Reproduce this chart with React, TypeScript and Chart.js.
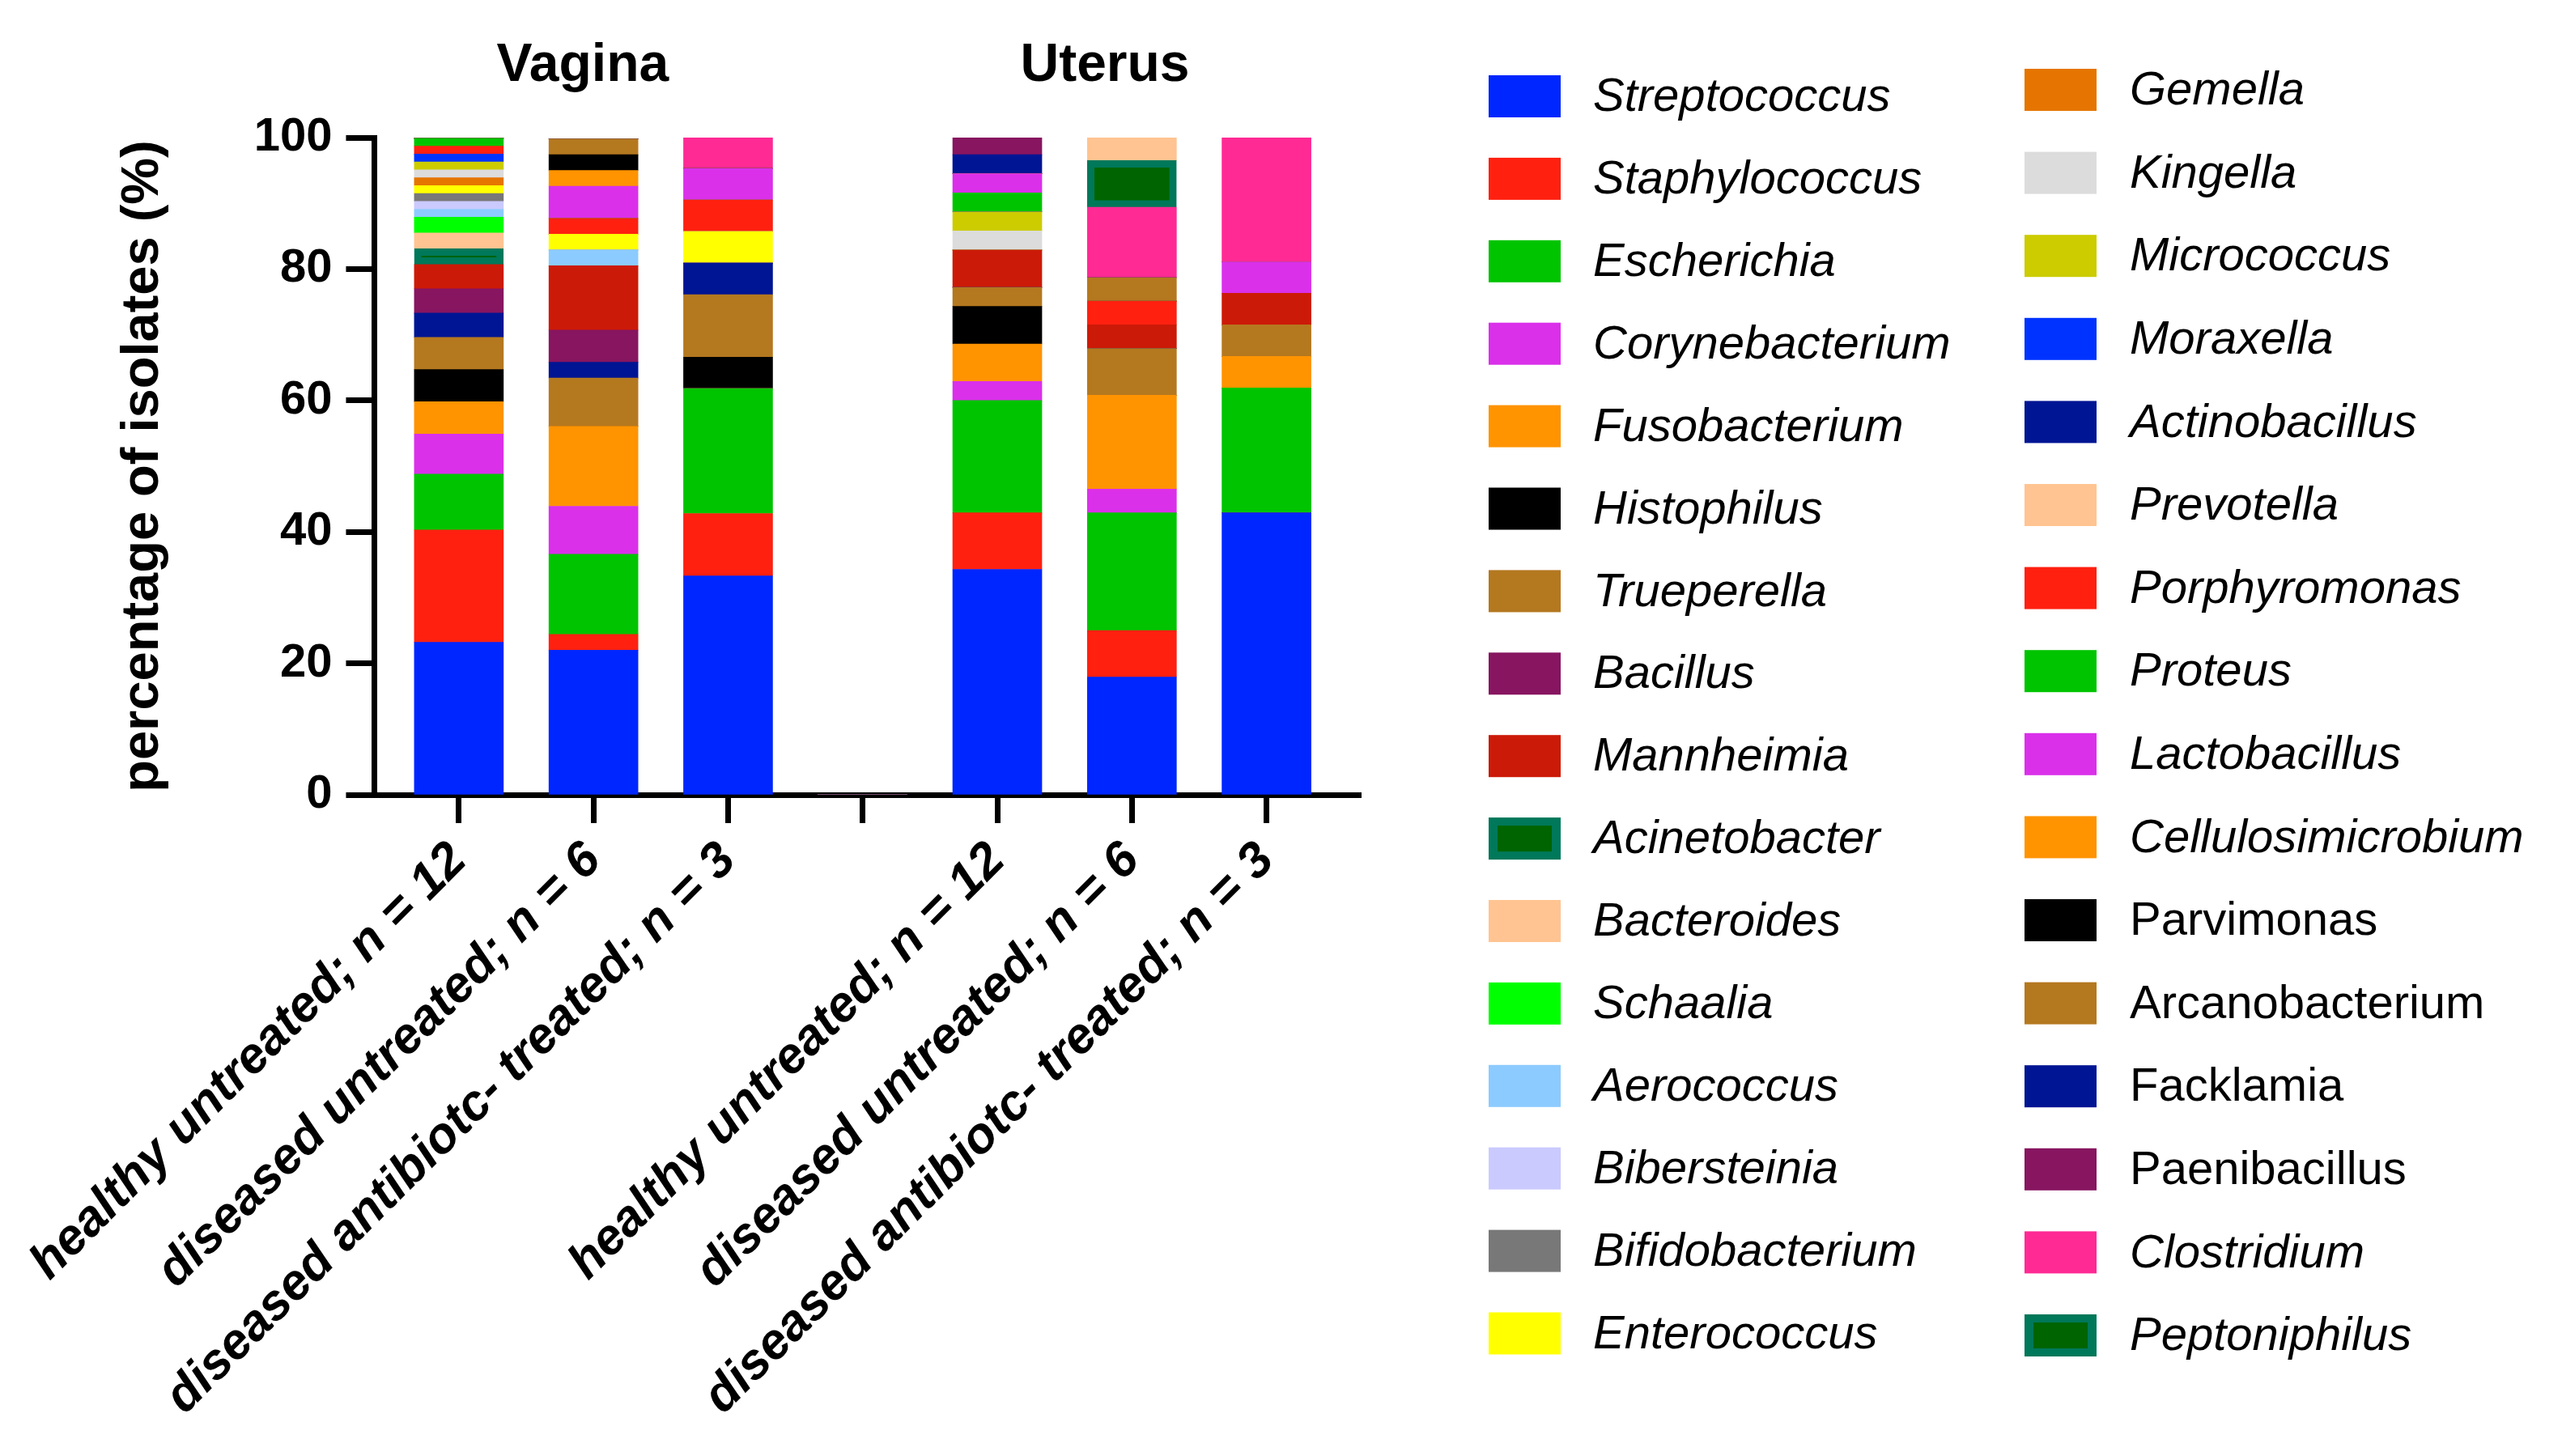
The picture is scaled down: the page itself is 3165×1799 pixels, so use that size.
import React, { useEffect, useRef } from 'react';
import { Chart, registerables } from 'chart.js';

Chart.register(...registerables);

// ---- categories / labels ----
const slotPositions = [0, 1, 2, 3, 4, 5, 6];
const groupLabels = [
  'healthy untreated; n = 12',
  'diseased untreated; n = 6',
  'diseased antibiotc- treated; n = 3',
  '',
  'healthy untreated; n = 12',
  'diseased untreated; n = 6',
  'diseased antibiotc- treated; n = 3',
];
const sectionTitles = ['Vagina', 'Uterus'];
const sectionCenters = [0.92, 4.8];
const yTicks = [0, 20, 40, 60, 80, 100];
const yTitle = 'percentage of isolates (%)';

// ---- series values (% of isolates), order: V healthy, V diseased, V treated, gap, U healthy, U diseased, U treated ----
const Streptococcus = [23.2, 22.0, 33.3, 0, 34.3, 17.9, 42.9];
const Staphylococcus = [17.1, 2.4, 9.5, 0, 8.6, 7.1, 0];
const Escherichia = [8.5, 12.2, 19.0, 0, 17.1, 17.9, 19.0];
const Corynebacterium = [6.1, 7.3, 0, 0, 2.9, 3.6, 0];
const Fusobacterium = [4.9, 12.2, 0, 0, 5.7, 14.3, 4.8];
const Histophilus = [4.9, 0, 4.8, 0, 5.7, 0, 0];
const Trueperella = [4.9, 7.3, 9.5, 0, 2.9, 7.1, 4.8];
const Actinobacillus = [3.7, 2.4, 4.8, 0, 0, 0, 0];
const Bacillus = [3.7, 4.9, 0, 0, 0, 0, 0];
const Mannheimia = [3.7, 9.8, 0, 0, 5.7, 3.6, 4.8];
const Acinetobacter = [2.4, 0, 0, 0, 0, 0, 0];
const Bacteroides = [2.4, 0, 0, 0, 0, 0, 0];
const Schaalia = [2.4, 0, 0, 0, 0, 0, 0];
const Aerococcus = [1.2, 2.4, 0, 0, 0, 0, 0];
const Bibersteinia = [1.2, 0, 0, 0, 0, 0, 0];
const Bifidobacterium = [1.2, 0, 0, 0, 0, 0, 0];
const Enterococcus = [1.2, 2.4, 4.8, 0, 0, 0, 0];
const Gemella = [1.2, 0, 0, 0, 0, 0, 0];
const Kingella = [1.2, 0, 0, 0, 2.9, 0, 0];
const Micrococcus = [1.2, 0, 0, 0, 2.9, 0, 0];
const Moraxella = [1.2, 0, 0, 0, 0, 0, 0];
const Porphyromonas = [1.2, 2.4, 4.8, 0, 0, 3.6, 0];
const Proteus = [1.2, 0, 0, 0, 2.9, 0, 0];
const Lactobacillus = [0, 4.9, 4.8, 0, 2.9, 0, 4.8];
const Cellulosimicrobium = [0, 2.4, 0, 0, 0, 0, 0];
const Parvimonas = [0, 2.4, 0, 0, 0, 0, 0];
const Arcanobacterium = [0, 2.4, 0, 0, 0, 3.6, 0];
const Facklamia = [0, 0, 0, 0, 2.9, 0, 0];
const Paenibacillus = [0, 0, 0, 0, 2.9, 0, 0];
const Clostridium = [0, 0, 4.8, 0, 0, 10.7, 19.0];
const Peptoniphilus = [0, 0, 0, 0, 0, 7.1, 0];
const Prevotella = [0, 0, 0, 0, 0, 3.6, 0];

// stacking order (bottom to top)
const stackOrder: [string, number[]][] = [
  ['Streptococcus', Streptococcus],
  ['Staphylococcus', Staphylococcus],
  ['Escherichia', Escherichia],
  ['Corynebacterium', Corynebacterium],
  ['Fusobacterium', Fusobacterium],
  ['Histophilus', Histophilus],
  ['Trueperella', Trueperella],
  ['Actinobacillus', Actinobacillus],
  ['Bacillus', Bacillus],
  ['Mannheimia', Mannheimia],
  ['Acinetobacter', Acinetobacter],
  ['Bacteroides', Bacteroides],
  ['Schaalia', Schaalia],
  ['Aerococcus', Aerococcus],
  ['Bibersteinia', Bibersteinia],
  ['Bifidobacterium', Bifidobacterium],
  ['Enterococcus', Enterococcus],
  ['Gemella', Gemella],
  ['Kingella', Kingella],
  ['Micrococcus', Micrococcus],
  ['Moraxella', Moraxella],
  ['Porphyromonas', Porphyromonas],
  ['Proteus', Proteus],
  ['Lactobacillus', Lactobacillus],
  ['Cellulosimicrobium', Cellulosimicrobium],
  ['Parvimonas', Parvimonas],
  ['Arcanobacterium', Arcanobacterium],
  ['Facklamia', Facklamia],
  ['Paenibacillus', Paenibacillus],
  ['Clostridium', Clostridium],
  ['Peptoniphilus', Peptoniphilus],
  ['Prevotella', Prevotella],
];

// legend layout order
const legendColumn1 = [
  'Streptococcus', 'Staphylococcus', 'Escherichia', 'Corynebacterium', 'Fusobacterium',
  'Histophilus', 'Trueperella', 'Bacillus', 'Mannheimia', 'Acinetobacter', 'Bacteroides',
  'Schaalia', 'Aerococcus', 'Bibersteinia', 'Bifidobacterium', 'Enterococcus',
];
const legendColumn2 = [
  'Gemella', 'Kingella', 'Micrococcus', 'Moraxella', 'Actinobacillus', 'Prevotella',
  'Porphyromonas', 'Proteus', 'Lactobacillus', 'Cellulosimicrobium', 'Parvimonas',
  'Arcanobacterium', 'Facklamia', 'Paenibacillus', 'Clostridium', 'Peptoniphilus',
];
const uprightNames = ['Parvimonas', 'Arcanobacterium', 'Facklamia', 'Paenibacillus'];

// ---- styles ----
const colors: Record<string, string> = {
  Streptococcus: '#0026FF',
  Staphylococcus: '#FF2010',
  Escherichia: '#00C400',
  Corynebacterium: '#DA30EA',
  Fusobacterium: '#FF9300',
  Histophilus: '#000000',
  Trueperella: '#B4781F',
  Actinobacillus: '#001593',
  Bacillus: '#871560',
  Mannheimia: '#CC1A08',
  Acinetobacter: '#006400',
  Bacteroides: '#FFC491',
  Schaalia: '#00FF00',
  Aerococcus: '#8CCBFF',
  Bibersteinia: '#CACAFF',
  Bifidobacterium: '#787878',
  Enterococcus: '#FFFF00',
  Gemella: '#E57500',
  Kingella: '#DCDCDC',
  Micrococcus: '#CCCC00',
  Moraxella: '#0033FF',
  Porphyromonas: '#FF2010',
  Proteus: '#00C400',
  Lactobacillus: '#DA30EA',
  Cellulosimicrobium: '#FF9300',
  Parvimonas: '#000000',
  Arcanobacterium: '#B4781F',
  Facklamia: '#001593',
  Paenibacillus: '#871560',
  Clostridium: '#FF2A94',
  Peptoniphilus: '#006400',
  Prevotella: '#FFC491',
};
const twoToneBorder: Record<string, string> = {
  Acinetobacter: '#00785A',
  Peptoniphilus: '#00785A',
};

const FONT = '"Liberation Sans", Arial, Helvetica, sans-serif';

const sectionTitlePlugin = {
  id: 'sectionTitles',
  afterDraw(chart: any) {
    const { ctx } = chart;
    const xs = chart.scales.x;
    ctx.save();
    ctx.fillStyle = '#000';
    ctx.font = `bold 66px ${FONT}`;
    ctx.textAlign = 'center';
    ctx.textBaseline = 'alphabetic';
    sectionTitles.forEach((t, i) => {
      ctx.fillText(t, xs.getPixelForValue(sectionCenters[i]), 100);
    });
    ctx.restore();
  },
};

const legendPlugin = {
  id: 'sideLegend',
  afterDraw(chart: any) {
    const { ctx } = chart;
    const cols = [
      { names: legendColumn1, boxX: 1839, textX: 1968, y0: 119, step: 101.9 },
      { names: legendColumn2, boxX: 2501, textX: 2631, y0: 111, step: 102.6 },
    ];
    const boxW = 89;
    const boxH = 52;
    ctx.save();
    cols.forEach((c) => {
      c.names.forEach((name, i) => {
        const cy = c.y0 + i * c.step;
        const bx = c.boxX;
        const by = cy - boxH / 2;
        if (twoToneBorder[name]) {
          ctx.fillStyle = twoToneBorder[name];
          ctx.fillRect(bx, by, boxW, boxH);
          ctx.fillStyle = colors[name];
          ctx.fillRect(bx + 11, by + 10, boxW - 22, boxH - 20);
        } else {
          ctx.fillStyle = colors[name];
          ctx.fillRect(bx, by, boxW, boxH);
        }
        ctx.fillStyle = '#000';
        ctx.font = `${uprightNames.includes(name) ? '' : 'italic '}58px ${FONT}`;
        ctx.textAlign = 'left';
        ctx.textBaseline = 'middle';
        ctx.fillText(name, c.textX, cy + 2);
      });
    });
    ctx.restore();
  },
};

export default function App() {
  const canvasRef = useRef<HTMLCanvasElement | null>(null);

  useEffect(() => {
    document.body.style.margin = '0';
    document.body.style.overflow = 'hidden';
    const canvas = canvasRef.current;
    if (!canvas) return;

    const datasets = stackOrder.map(([name, values]) => ({
      label: name,
      data: values,
      backgroundColor: colors[name],
      borderColor: twoToneBorder[name] ?? colors[name],
      borderWidth: twoToneBorder[name] ? 9 : 0,
      borderSkipped: false as any,
      barThickness: 110,
    }));

    const chart = new Chart(canvas, {
      type: 'bar',
      data: { labels: slotPositions, datasets },
      options: {
        animation: false,
        responsive: true,
        maintainAspectRatio: false,
        layout: { padding: { top: 170, right: 1484, bottom: 0, left: 0 } },
        plugins: {
          legend: { display: false },
          tooltip: { enabled: false },
        },
        scales: {
          x: {
            type: 'linear',
            stacked: true,
            offset: false,
            min: -0.628,
            max: 6.7,
            afterBuildTicks: (s: any) => {
              s.ticks = slotPositions.map((v) => ({ value: v }));
            },
            afterFit: (s: any) => {
              s.height = 817;
            },
            border: { display: true, color: '#000', width: 7 },
            grid: {
              display: true,
              offset: false,
              drawOnChartArea: false,
              drawTicks: true,
              tickLength: 35,
              tickWidth: 7,
              tickColor: '#000',
            },
            ticks: {
              autoSkip: false,
              minRotation: 45,
              maxRotation: 45,
              padding: 10,
              color: '#000',
              font: { family: FONT, size: 62, weight: 'bold', style: 'italic' },
              callback: (v: any) => groupLabels[Math.round(Number(v))] ?? '',
            },
          },
          y: {
            stacked: true,
            min: 0,
            max: 100,
            afterBuildTicks: (s: any) => {
              s.ticks = yTicks.map((v) => ({ value: v }));
            },
            afterFit: (s: any) => {
              s.width = 457;
            },
            border: { display: true, color: '#000', width: 7 },
            grid: {
              display: true,
              drawOnChartArea: false,
              drawTicks: true,
              tickLength: 35,
              tickWidth: 7,
              tickColor: '#000',
            },
            ticks: {
              padding: 17,
              color: '#000',
              font: { family: FONT, size: 58, weight: 'bold' },
            },
            title: {
              display: true,
              text: yTitle,
              color: '#000',
              font: { family: FONT, size: 65, weight: 'bold' },
              padding: { top: 133, bottom: 0 },
            },
          },
        },
      } as any,
      plugins: [sectionTitlePlugin, legendPlugin],
    });

    return () => {
      chart.destroy();
    };
  }, []);

  return (
    <div style={{ position: 'fixed', left: 0, top: 0, width: 3165, height: 1799, background: '#fff' }}>
      <canvas ref={canvasRef} />
    </div>
  );
}
